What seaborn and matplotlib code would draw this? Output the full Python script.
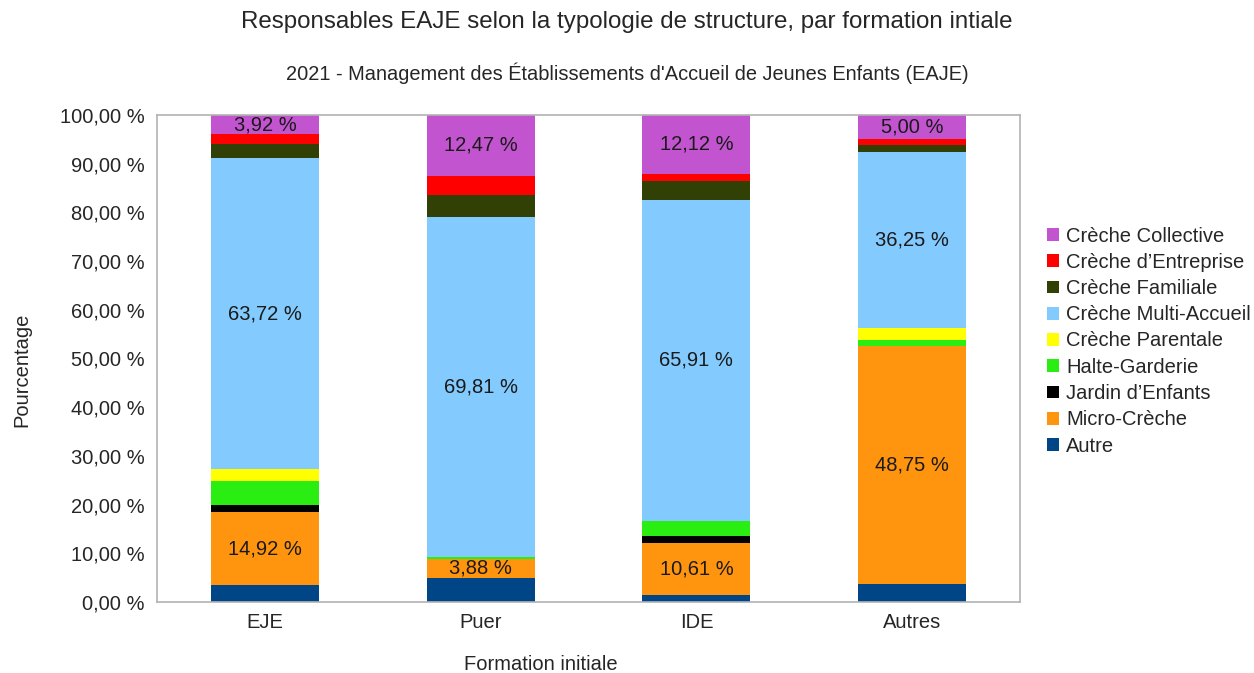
import numpy as np
import pandas as pd
import matplotlib
matplotlib.use("Agg")
import matplotlib.pyplot as plt
from matplotlib.ticker import FuncFormatter, FixedLocator
from matplotlib.patches import Patch
import seaborn as sns

# --- data (percent of responsables per structure type) ---
formations = ["EJE", "Puer", "IDE", "Autres"]
structures = ["Autre", "Micro-Crèche", "Jardin d’Enfants", "Halte-Garderie",
              "Crèche Parentale", "Crèche Multi-Accueil", "Crèche Familiale",
              "Crèche d’Entreprise", "Crèche Collective"]

autre = [3.48, 4.99, 1.52, 3.75]
micro_creche = [14.92, 3.88, 10.61, 48.75]
jardin = [1.52, 0.0, 1.52, 0.0]
halte = [4.98, 0.28, 3.03, 1.25]
parentale = [2.47, 0.0, 0.0, 2.50]
multi_accueil = [63.72, 69.81, 65.91, 36.25]
familiale = [2.88, 4.71, 3.79, 1.25]
entreprise = [2.11, 3.88, 1.52, 1.25]
collective = [3.92, 12.47, 12.12, 5.00]

colors = ["#004586", "#ff950e", "#000000", "#2aed11", "#ffff00",
          "#83caff", "#314004", "#ff0000", "#c354cf"]
labelled = ["Micro-Crèche", "Crèche Multi-Accueil", "Crèche Collective"]

df = pd.DataFrame(
    [autre, micro_creche, jardin, halte, parentale, multi_accueil,
     familiale, entreprise, collective],
    index=structures, columns=formations)
cum = df.cumsum()

sns.set_style("white")
plt.rcParams['font.family'] = ['Liberation Sans', 'DejaVu Sans']
FS = 14.5

fig = plt.figure(figsize=(12.54, 6.73), dpi=100)
ax = fig.add_axes([157 / 1254, 1 - 602 / 673, 863 / 1254, 487 / 673])

# stacked bars: draw cumulative totals from the top layer down
for name, col in reversed(list(zip(structures, colors))):
    sns.barplot(x=formations, y=cum.loc[name].values, color=col, width=0.5,
                linewidth=0, saturation=1, ax=ax)

# value labels on the main segments
for name in labelled:
    for i, f in enumerate(formations):
        v = df.loc[name, f]
        mid = cum.loc[name, f] - v / 2
        ax.text(i, mid, f"{v:.2f} %".replace(".", ","), ha="center",
                va="center", fontsize=FS, color="#1a1a1a")

ax.set_xlim(-0.5, 3.5)
ax.set_ylim(0, 100)
ax.yaxis.set_major_locator(FixedLocator(np.arange(0, 101, 10)))
ax.yaxis.set_major_formatter(FuncFormatter(lambda v, p: f"{v:.2f} %".replace(".", ",")))
ax.xaxis.set_major_locator(FixedLocator(np.arange(-0.5, 4, 1)))
ax.xaxis.set_minor_locator(FixedLocator(np.arange(4)))
ax.set_xticklabels([""] * 5)
ax.set_xticklabels(formations, minor=True)
ax.tick_params(axis="x", which="minor", length=0, pad=8, labelsize=FS)
ax.tick_params(axis="x", which="major", length=6, width=1.2, color="#b3b3b3", direction="out")
ax.tick_params(axis="y", length=6, width=1.2, color="#b3b3b3", direction="out", pad=3, labelsize=FS)
ax.set_xlabel("")
ax.set_ylabel("")
for s in ax.spines.values():
    s.set_visible(True)
    s.set_color("#b3b3b3")
    s.set_linewidth(1.2)

fig.text(0.5, 1 - 22 / 673, "Responsables EAJE selon la typologie de structure, par formation intiale",
         ha="center", va="center", fontsize=17.4)
fig.text(0.5, 1 - 73 / 673, "2021 - Management des Établissements d'Accueil de Jeunes Enfants (EAJE)",
         ha="center", va="center", fontsize=14.4)
fig.text(22 / 1254, 1 - 370 / 673, "Pourcentage", rotation=90, ha="center", va="center", fontsize=FS)
fig.text(541 / 1254, 1 - 665 / 673, "Formation initiale", ha="center", va="center", fontsize=FS)

handles = [Patch(facecolor=c, edgecolor="none", label=n)
           for n, c in reversed(list(zip(structures, colors)))]
fig.legend(handles=handles, loc="center left", bbox_to_anchor=(1047 / 1254, 1 - 341 / 673),
           frameon=False, fontsize=FS, handlelength=0.6, handleheight=0.6,
           handletextpad=0.35, labelspacing=0.36, borderaxespad=0, borderpad=0)

fig.savefig("out.png", dpi=100)
